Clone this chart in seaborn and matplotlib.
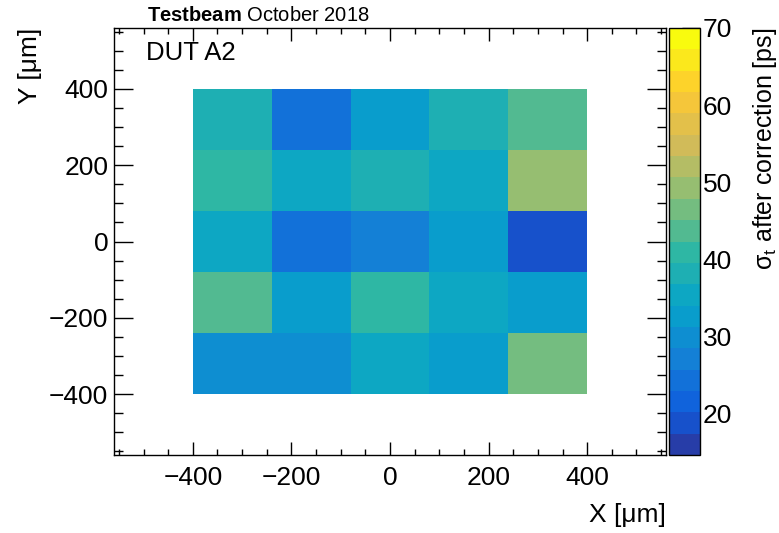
import numpy as np
import pandas as pd
import matplotlib
matplotlib.use("Agg")
import matplotlib.pyplot as plt
import seaborn as sns
from matplotlib.colors import LinearSegmentedColormap, ListedColormap
from matplotlib.ticker import MultipleLocator

# Bin edges (um)
x_edges = [-400, -240, -80, 80, 240, 400]
y_edges = [-400, -240, -80, 80, 240, 400]

# sigma_t after correction [ps], one list per row of pixels (bottom to top)
row_m320 = [29.8, 30.0, 35.4, 32.6, 46.4]
row_m160 = [43.7, 32.6, 40.9, 35.4, 32.6]
row_0 = [35.4, 24.3, 27.1, 32.6, 18.8]
row_160 = [40.9, 35.4, 38.1, 35.4, 49.2]
row_320 = [38.1, 24.3, 32.6, 38.1, 43.7]

z_min, z_max = 14.6, 70.0
n_contours = 20

sns.set_theme(style="ticks")
plt.rcParams["font.family"] = ["Liberation Sans", "DejaVu Sans"]
plt.rcParams["text.color"] = "black"
plt.rcParams["axes.labelcolor"] = "black"
plt.rcParams["mathtext.fontset"] = "custom"
plt.rcParams["mathtext.rm"] = "Liberation Sans"
plt.rcParams["mathtext.it"] = "Liberation Sans:italic"
plt.rcParams["mathtext.bf"] = "Liberation Sans:bold"

# ROOT "bird" palette, sampled like ROOT does for 20 contours
stops = [0.0, 0.125, 0.25, 0.375, 0.5, 0.625, 0.75, 0.875, 1.0]
red = [0.2082, 0.0592, 0.0780, 0.0232, 0.1802, 0.5301, 0.8186, 0.9956, 0.9764]
green = [0.1664, 0.3599, 0.5041, 0.6419, 0.7178, 0.7492, 0.7328, 0.7862, 0.9832]
blue = [0.5293, 0.8684, 0.8385, 0.7914, 0.6425, 0.4662, 0.3499, 0.1968, 0.0539]
bird = LinearSegmentedColormap.from_list(
    "bird", list(zip(stops, zip(red, green, blue))), N=255)
idx = [int((i + 0.99) * 255 / n_contours) for i in range(n_contours)]
cmap = ListedColormap([bird(min(k, 254) / 254) for k in idx])

# long-form table of bin centres
xc = [(a + b) / 2 for a, b in zip(x_edges[:-1], x_edges[1:])]
yc = [(a + b) / 2 for a, b in zip(y_edges[:-1], y_edges[1:])]
rows = [row_m320, row_m160, row_0, row_160, row_320]
df = pd.DataFrame([(x, y, rows[j][i]) for j, y in enumerate(yc) for i, x in enumerate(xc)],
                  columns=["x", "y", "sigma"])

fig = plt.figure(figsize=(7.79, 5.33), dpi=100)
ax = fig.add_axes([0.1463, 0.1463, 0.7087, 0.8012])
cax = fig.add_axes([0.8588, 0.1463, 0.0398, 0.8012])

sns.histplot(data=df, x="x", y="y", weights="sigma", bins=[x_edges, y_edges],
             cmap=cmap, ax=ax, cbar=False)
mesh = ax.collections[0]
mesh.set_clim(z_min, z_max)

ax.set_xlim(-560, 560)
ax.set_ylim(-560, 560)
ax.set_xlabel("")
ax.set_ylabel("")
ax.grid(False)
ax.xaxis.set_major_locator(MultipleLocator(200))
ax.xaxis.set_minor_locator(MultipleLocator(50))
ax.yaxis.set_major_locator(MultipleLocator(200))
ax.yaxis.set_minor_locator(MultipleLocator(50))
ax.tick_params(axis="both", which="both", direction="in", top=True, right=True,
               colors="black", labelsize=19, width=1)
ax.tick_params(axis="x", which="major", length=9.4, pad=8)
ax.tick_params(axis="x", which="minor", length=4.6)
ax.tick_params(axis="y", which="major", length=13.4, pad=4)
ax.tick_params(axis="y", which="minor", length=6.7)
for s in ax.spines.values():
    s.set_visible(True)
    s.set_color("black")
    s.set_linewidth(1.0)

cb = fig.colorbar(mesh, cax=cax)
cb.set_ticks([20, 30, 40, 50, 60, 70])
cb.ax.tick_params(direction="in", length=13, width=1, labelsize=19, pad=2, colors="black")
cb.outline.set_linewidth(1.0)
cb.outline.set_edgecolor("black")

fig.text(0.038, 0.9475, "Y [μm]", rotation=90, ha="center", va="top", fontsize=19)
fig.text(0.855, 0.034, "X [μm]", ha="right", va="center", fontsize=19)
fig.text(0.982, 0.9475, r"σ$_{\mathrm{t}}$ after correction [ps]", rotation=90,
         ha="center", va="top", fontsize=18)
fig.text(0.1887, 0.9606, r"$\bf{Testbeam}$ October 2018", ha="left",
         va="baseline", fontsize=14.5)
fig.text(0.187, 0.8874, "DUT A2", ha="left", va="baseline", fontsize=18.5)

fig.savefig("out.png", dpi=100)
